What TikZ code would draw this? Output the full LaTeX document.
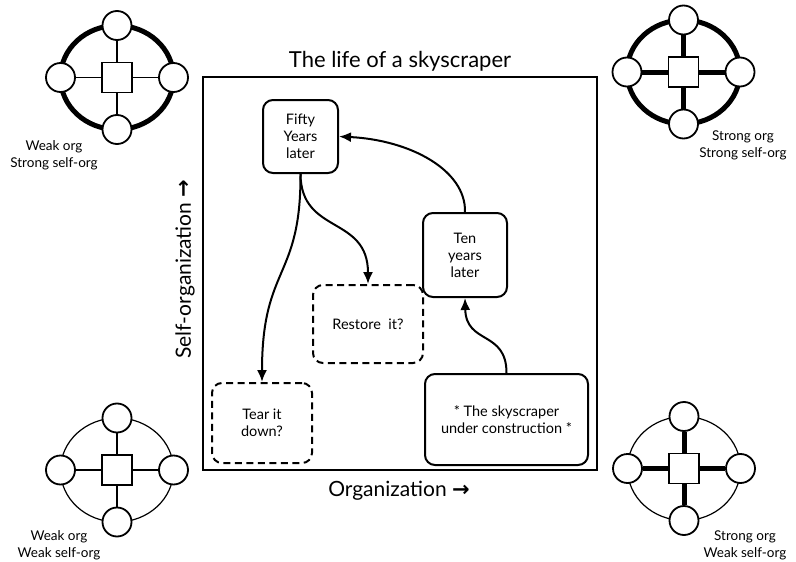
\documentclass[tikz,border=0pt]{standalone}
\usepackage{fontspec}
\setmainfont{Lato}
\newfontfamily\arrowfont{DejaVu Sans}
\usetikzlibrary{arrows.meta}

\tikzset{
  boxtext/.style={font=\fontsize{14.5}{17}\selectfont, align=center},
  stagebox/.style={boxtext, draw, line width=2pt, rounded corners=10pt, inner sep=0pt},
  maybebox/.style={stagebox, dash pattern=on 7pt off 4.5pt},
  flow/.style={line width=2pt, -{Latex[length=12pt,width=10pt]}},
  member/.style={circle, draw, fill=white, line width=1.8pt, minimum size=29pt, inner sep=0pt},
  hub/.style={rectangle, draw, fill=white, line width=1.8pt, minimum size=30pt, inner sep=0pt},
  cornerlabel/.style={font=\fontsize{13.5}{17}\selectfont, align=center},
  axislabel/.style={font=\fontsize{21}{24}\selectfont},
  pics/orgnet/.style 2 args={code={
    % ring linking the members (self-organization)
    \draw[line width=#1] (0,0) ellipse [x radius=56.5, y radius=52];
    \node[hub] (-c) at (0,0) {};
    \node[member] (-n) at (0,-52) {};
    \node[member] (-s) at (0,52) {};
    \node[member] (-w) at (-56.5,0) {};
    \node[member] (-e) at (56.5,0) {};
    % spokes from the hub (organization)
    \draw[line width=#2] (-c) -- (-n);
    \draw[line width=#2] (-c) -- (-s);
    \draw[line width=#2] (-c) -- (-w);
    \draw[line width=#2] (-c) -- (-e);
  }}
}

\begin{document}
\begin{tikzpicture}[x=1pt, y=-1pt]
\useasboundingbox (0,0) rectangle (796,562);

% main panel
\node[draw, line width=2pt, minimum width=394pt, minimum height=393pt, inner sep=0pt] (frame) at (400,273.5) {};
\node[font=\fontsize{22}{24}\selectfont] (title) at (400,61) {The life of a skyscraper};

% stages
\node[stagebox, minimum width=75pt, minimum height=73pt] (fifty) at (300.5,136.5) {Fifty\\Years\\later};
\node[stagebox, minimum width=84pt, minimum height=84pt] (ten) at (465,255) {Ten\\years\\later};
\node[maybebox, minimum width=110pt, minimum height=78pt] (restore) at (368,324) {Restore\ \ it?};
\node[maybebox, minimum width=100pt, minimum height=80pt] (tear) at (262,423) {Tear it\\down?};
\node[stagebox, minimum width=163pt, minimum height=91pt] (con) at (506.5,419.5) {* The skyscraper\\under construction *};

% transitions
\draw[flow] (con.north) .. controls (506.5,330) and (466,345) .. (ten.south);
\draw[flow] (ten.north) .. controls (466,170) and (410,140) .. (fifty.east);
\draw[flow] (fifty.south) .. controls (301,235) and (368,215) .. (restore.north);
\draw[flow] (fifty.south) .. controls (301,280) and (262,265) .. (tear.north);

% axes
\node[axislabel] (xaxis) at (399,491) {Organization {\arrowfont\bfseries →}};
\node[axislabel, rotate=90] (yaxis) at (185,269) {Self-organization {\arrowfont\bfseries →}};

% corner examples
\pic (tl) at (117,77.5) {orgnet={5pt}{1.2pt}};
\pic (tr) at (683.5,72) {orgnet={5pt}{5pt}};
\pic (bl) at (117,470) {orgnet={1.2pt}{1.2pt}};
\pic (br) at (684,468.5) {orgnet={1.2pt}{5pt}};

\node[cornerlabel] (tllabel) at (54,155.5) {Weak org\\Strong self-org};
\node[cornerlabel] (trlabel) at (743,145.5) {Strong org\\Strong self-org};
\node[cornerlabel] (bllabel) at (59,545.5) {Weak org\\Weak self-org};
\node[cornerlabel] (brlabel) at (745,545) {Strong org\\Weak self-org};
\end{tikzpicture}
\end{document}
